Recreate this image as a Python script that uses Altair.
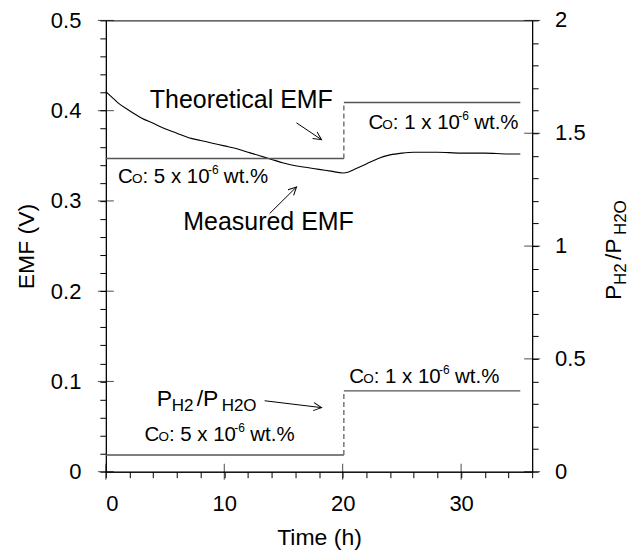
import math
import altair as alt
import pandas as pd

# ---------------- data ----------------
meas_t = [0, 0.5, 1, 2, 3, 4, 5, 6, 7, 8, 9, 10, 11, 12, 13, 14, 15, 16, 17, 18,
          19, 20, 20.5, 21, 22, 23, 24, 25, 26, 28, 30, 32, 34, 35]
meas_v = [0.421, 0.415, 0.409, 0.400, 0.392, 0.386, 0.380, 0.375, 0.370, 0.367,
          0.364, 0.361, 0.358, 0.354, 0.350, 0.346, 0.342, 0.339, 0.337, 0.335,
          0.333, 0.331, 0.332, 0.335, 0.341, 0.347, 0.351, 0.353, 0.354, 0.354,
          0.353, 0.353, 0.352, 0.352]

step_start = [0, 20.1]
step_end = [20.1, 35]
theo_v = [0.347, 0.409]      # theoretical EMF (V)
ratio_v = [0.074, 0.358]     # PH2/PH2O

x_ticks = list(range(0, 37, 2))
emf_ticks = [round(i * 0.02, 2) for i in range(26)]
ratio_ticks = [round(i * 0.1, 1) for i in range(21)]
x_major = [0, 10, 20, 30]
emf_major = [0, 0.1, 0.2, 0.3, 0.4, 0.5]
ratio_major = [0, 0.5, 1, 1.5, 2]
ratio_labels = ["0", "0.5", "1", "1.5", "2"]

# annotation anchors (data coordinates)
co_t = [1.03, 22.17, 3.26, 20.55]
co_v = [0.3199, 0.3801, 0.0338, 0.0983]
co_n = ["5", "1", "5", "1"]

arr_t1 = [16.10, 13.83, 13.41]
arr_v1 = [0.3865, 0.2860, 0.0786]
arr_t2 = [18.21, 16.10, 18.21]
arr_v2 = [0.3679, 0.3155, 0.0710]

W, H = 427, 452
X_DOM, EMF_DOM, R_DOM = [0, 36], [0, 0.5], [0, 2]
FONT = "Liberation Sans"
LINE = "#555555"

xs = alt.Scale(domain=X_DOM, nice=False, zero=False)
ys = alt.Scale(domain=EMF_DOM, nice=False, zero=False)
rs = alt.Scale(domain=R_DOM, nice=False, zero=False)

common_axis = dict(grid=False, domainColor="black", tickColor="black",
                   labelColor="black", titleColor="black", labelFont=FONT,
                   titleFont=FONT, labelFontSize=22, titleFontSize=23,
                   titleFontWeight="normal", tickSize=6)

x_major_test = "datum.value % 10 == 0"
emf_major_test = "abs(datum.value*10 - round(datum.value*10)) < 0.001"

x_axis = alt.Axis(values=x_ticks, title="Time (h)", labelPadding=16,
                  labelExpr=f"{x_major_test} ? format(datum.value, '~f') : ''",
                  titlePadding=12, **common_axis)
y_axis = alt.Axis(values=emf_ticks, title="EMF (V)", labelAlign="right",
                  labelPadding=19,
                  labelExpr=f"{emf_major_test} ? format(datum.value, '.1~f') : ''",
                  titlePadding=12, **common_axis)
r_axis = alt.Axis(values=ratio_ticks, title="", orient="right", labels=False,
                  **common_axis)

# ---------------- frames ----------------
meas_df = pd.DataFrame({"t": meas_t, "v": meas_v})
theo_df = pd.DataFrame({
    "t": [step_start[0], step_end[0], step_start[1], step_end[1]],
    "v": [theo_v[0], theo_v[0], theo_v[1], theo_v[1]],
    "seg": [0, 0, 1, 1]})
theo_jump = pd.DataFrame({"t": [step_end[0]], "v": [theo_v[0]], "v2": [theo_v[1]]})
ratio_df = pd.DataFrame({
    "t": [step_start[0], step_end[0], step_start[1], step_end[1]],
    "r": [ratio_v[0], ratio_v[0], ratio_v[1], ratio_v[1]],
    "seg": [0, 0, 1, 1]})
ratio_jump = pd.DataFrame({"t": [step_end[0]], "r": [ratio_v[0]], "r2": [ratio_v[1]]})

kx = W / (X_DOM[1] - X_DOM[0])
ky = H / (EMF_DOM[1] - EMF_DOM[0])
arr_df = pd.DataFrame({"t": arr_t1, "v1": arr_v1, "t2": arr_t2, "v2": arr_v2})
arr_df["ang"] = [
    math.degrees(math.atan2(-(b2 - b1) * ky, (a2 - a1) * kx)) % 360
    for a1, b1, a2, b2 in zip(arr_t1, arr_v1, arr_t2, arr_v2)]
head_df = pd.DataFrame({"t": arr_t2, "v": arr_v2, "ang": arr_df["ang"]})

co_df = pd.DataFrame({"t": co_t, "v": co_v,
                      "mid": [f": {n} x 10" for n in co_n]})

# every layer carries the same x axis definition so the shared axis merges
tx = alt.X("t:Q", scale=xs, axis=x_axis)
vy = alt.Y("v:Q", scale=ys, axis=None)
ry_enc = alt.Y("r:Q", scale=rs, axis=None)


def text_layer(df, text=None, field=None, dx=0, dy=0, size=20, x=tx, y=vy,
               angle=0, baseline="alphabetic"):
    kw = dict(font=FONT, fontSize=size, align="left", baseline=baseline,
              color="black", dx=dx, dy=dy)
    if angle:
        kw["angle"] = angle
    if text is not None:
        kw["text"] = text
    enc = dict(x=x, y=y)
    if field is not None:
        enc["text"] = alt.Text(field + ":N")
    return alt.Chart(df).mark_text(**kw).encode(**enc)


# ---------------- layers ----------------
meas = alt.Chart(meas_df).mark_line(color="black", strokeWidth=1.1,
                                    interpolate="monotone").encode(
    x=tx, y=alt.Y("v:Q", scale=ys, axis=y_axis))

ratio = alt.Chart(ratio_df).mark_line(color=LINE, strokeWidth=1.4).encode(
    x=tx, y=alt.Y("r:Q", scale=rs, axis=r_axis), detail="seg:N")

theo = alt.Chart(theo_df).mark_line(color=LINE, strokeWidth=1.4).encode(
    x=tx, y=vy, detail="seg:N")
theo_d = alt.Chart(theo_jump).mark_rule(color=LINE, strokeWidth=1.2,
                                        strokeDash=[5, 3]).encode(
    x=tx, y=vy, y2="v2:Q")
ratio_d = alt.Chart(ratio_jump).mark_rule(color=LINE, strokeWidth=1.2,
                                          strokeDash=[5, 3]).encode(
    x=tx, y=ry_enc, y2="r2:Q")

lbl_theo = text_layer(pd.DataFrame({"t": [3.71], "v": [0.4025]}),
                      text="Theoretical EMF", size=25)
lbl_meas = text_layer(pd.DataFrame({"t": [6.54], "v": [0.2675]}),
                      text="Measured EMF", size=25)

co_layers = [
    text_layer(co_df, text="C", dx=0, size=20.5),
    text_layer(co_df, text="O", dx=14, size=13.5),
    text_layer(co_df, field="mid", dx=24.5, size=20.5),
    text_layer(co_df, text="-6", dx=90, dy=-9, size=12),
    text_layer(co_df, text="wt.%", dx=106, size=20.5),
]

ph_df = pd.DataFrame({"t": [4.30], "v": [0.0726]})
ph_layers = [
    text_layer(ph_df, text="P", dx=0, size=23),
    text_layer(ph_df, text="H2", dx=15, dy=5, size=17),
    text_layer(ph_df, text="/P", dx=40, size=23),
    text_layer(ph_df, text="H2O", dx=65, dy=5, size=17),
]

arrows = alt.Chart(arr_df).mark_rule(color="black", strokeWidth=1).encode(
    x=tx, y=alt.Y("v1:Q", scale=ys, axis=None), x2="t2:Q", y2="v2:Q")
heads = alt.Chart(head_df).mark_point(
    shape="M -1 -0.5 L 0 0 L -1 0.5", size=256, filled=False, strokeWidth=1,
    color="black", opacity=1).encode(
    x=tx, y=vy, angle=alt.Angle("ang:Q", scale=None))

left_in = alt.Chart(pd.DataFrame({"v": emf_major})).mark_tick(
    orient="horizontal", size=16, thickness=1, color="black").encode(
    x=alt.value(0), y=vy)
bottom_in = alt.Chart(pd.DataFrame({"t": x_major})).mark_tick(
    orient="vertical", size=16, thickness=1, color="black").encode(
    x=tx, y=alt.value(H))
right_in = alt.Chart(pd.DataFrame({"r": ratio_major})).mark_tick(
    orient="horizontal", size=16, thickness=1, color="black").encode(
    x=alt.value(W), y=ry_enc)

# right-axis labels
r_lab = alt.Chart(pd.DataFrame({"r": ratio_major, "lab": ratio_labels})).mark_text(
    font=FONT, fontSize=22, align="left", baseline="middle", color="black").encode(
    x=alt.value(W + 23), y=ry_enc, text="lab:N")

rt_df = pd.DataFrame({"k": [0]})
rx, ry = alt.value(W + 89), alt.value(280)
rtitle = [
    text_layer(rt_df, text="P", dx=0, size=23, x=rx, y=ry, angle=270),
    text_layer(rt_df, text="H2", dx=15, dy=5, size=17, x=rx, y=ry, angle=270),
    text_layer(rt_df, text="/P", dx=40, size=23, x=rx, y=ry, angle=270),
    text_layer(rt_df, text="H2O", dx=65, dy=5, size=17, x=rx, y=ry, angle=270),
]

chart = alt.layer(meas, ratio, theo, theo_d, ratio_d, lbl_theo, lbl_meas,
                  *co_layers, *ph_layers, arrows, heads, left_in, bottom_in,
                  right_in, r_lab, *rtitle).resolve_scale(y="independent").properties(
    width=W, height=H, autosize="none",
    padding={"left": 98, "top": 12, "right": 100, "bottom": 80},
    background="white",
).configure_view(stroke="black", strokeWidth=1)

chart.save("out.html", embed_options={"renderer": "svg", "actions": False})
